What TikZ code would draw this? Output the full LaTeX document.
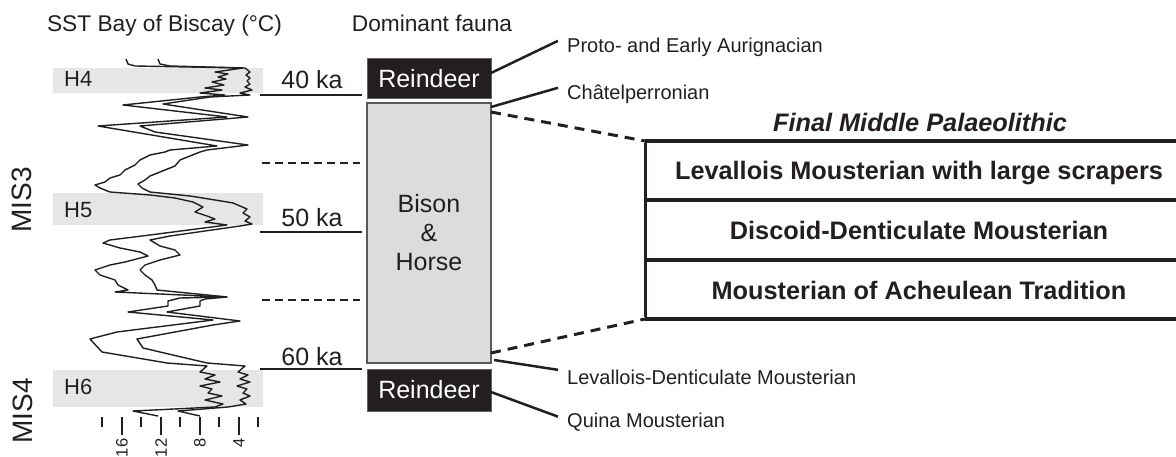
\documentclass[tikz,border=0pt]{standalone}
\usepackage{fontspec}
\setmainfont{Liberation Sans}
\definecolor{ink}{HTML}{231F20}
\definecolor{bandgray}{HTML}{E6E6E6}
\definecolor{bisonfill}{HTML}{DCDCDC}
\begin{document}
\begin{tikzpicture}[x=1pt,y=-1pt,
  head/.style={text=ink, inner sep=0pt, anchor=base, font=\fontsize{22.7}{27}\selectfont},
  kalab/.style={text=ink, inner sep=0pt, anchor=base, font=\fontsize{25}{30}\selectfont},
  hlab/.style={text=ink, inner sep=0pt, anchor=base west, font=\fontsize{22}{26}\selectfont},
  mislab/.style={text=ink, inner sep=0pt, rotate=90, font=\fontsize{28}{32}\selectfont},
  ticklab/.style={text=ink, inner sep=0pt, rotate=90, anchor=east, font=\fontsize{16.5}{20}\selectfont},
  darkbox/.style={fill=ink, draw=ink!70, line width=1pt, text=white, minimum width=124pt, inner sep=0pt, outer sep=0pt, font=\fontsize{25}{30}\selectfont},
  bisonbox/.style={fill=bisonfill, draw=ink!75, line width=1.5pt, minimum width=124pt, minimum height=260pt, inner sep=0pt, outer sep=0pt, align=center, text=ink, font=\fontsize{25}{29}\selectfont},
  note/.style={text=ink, inner sep=0pt, anchor=base west, font=\fontsize{20}{24}\selectfont},
  conn/.style={draw=ink, line width=2.5pt},
  dashconn/.style={draw=ink, line width=3pt, dash pattern=on 10pt off 7pt},
  kaline/.style={draw=ink, line width=2.5pt},
  dotline/.style={draw=ink, line width=2.5pt, dash pattern=on 8pt off 5pt},
  rowtext/.style={text=ink, inner sep=0pt, anchor=base, font=\bfseries\fontsize{25.3}{30}\selectfont},
  tabrule/.style={draw=ink, line width=4pt},
  sst/.style={draw=ink, line width=1.4pt, line join=round},
  tickmark/.style={draw=ink, line width=1.5pt}
]
\useasboundingbox (0,0) rectangle (1176,457);

% headings
\node[head] (hsst) at (164.5,32) {SST Bay of Biscay (°C)};
\node[head] (hfauna) at (432,32) {Dominant fauna};

% Heinrich bands
\fill[bandgray] (53,68) rectangle (263,93);
\fill[bandgray] (53,193) rectangle (263,225);
\fill[bandgray] (53,370) rectangle (263,407);
\node[hlab] (h4) at (64,87) {H4};
\node[hlab] (h5) at (64,218) {H5};
\node[hlab] (h6) at (64,394) {H6};

% SST curves
\draw[sst] plot coordinates {(126,59) (128,64) (135,66) (243,68)
 (215,72) (228,74) (218,77) (226,79) (212,82) (224,85) (205,88) (222,90) (200,93) (225,95) (200,97)
 (123,105) (227,117) (98,126) (217,146) (170,150)
 (165,152) (150,155) (140,160) (135,165) (125,170) (120,175) (110,178) (105,182) (95,185) (100,188) (110,192)
 (150,195) (175,198) (193,202) (203,207) (195,212) (207,216) (215,219) (205,222) (227,225)
 (150,235) (110,240) (103,243) (120,248) (140,252) (148,256) (125,262) (110,265) (95,270) (100,275) (115,280) (118,285) (128,290) (115,292)
 (227,297) (180,298) (168,301) (168,306) (128,312) (213,320) (117,332) (90,339) (102,352) (167,363) (207,366)
 (200,372) (215,375) (205,379) (220,382) (200,386) (212,389) (208,393) (222,396) (205,400) (223,404) (215,407)
 (133,411) (158,416)};
\draw[sst] plot coordinates {(158,59) (160,64) (170,66) (245,68)
 (250,72) (246,75) (250,78) (247,81) (250,84) (245,87) (252,90) (240,93) (250,95) (210,97)
 (163,104) (248,117) (140,126) (155,132) (248,145) (207,150)
 (200,152) (190,156) (180,160) (175,166) (160,172) (150,176) (145,180) (138,184) (142,188) (150,192)
 (190,196) (215,200) (233,203) (247,209) (243,213) (250,217) (245,221) (252,224) (240,226)
 (170,236) (150,240) (160,246) (175,250) (180,255) (160,260) (145,265) (140,270) (145,275) (152,280) (155,285) (157,290)
 (227,297) (205,299) (200,301) (200,306) (167,312) (240,321) (213,325) (137,339) (143,348) (207,363) (245,366)
 (238,372) (248,375) (240,379) (250,382) (237,386) (247,389) (243,393) (250,396) (240,400) (246,404) (228,407)
 (178,411) (200,416)};

% temperature scale
\foreach \x in {102,141,180,219,258} \draw[tickmark] (\x,417) -- (\x,427);
\foreach \x in {122,161,200,239} \draw[tickmark] (\x,417) -- (\x,435);
\node[ticklab] (t16) at (122,438.5) {16};
\node[ticklab] (t12) at (161,438.5) {12};
\node[ticklab] (t8) at (200,438.5) {8};
\node[ticklab] (t4) at (239,438.5) {4};

% MIS labels
\node[mislab] (mis3) at (22,200) {MIS3};
\node[mislab] (mis4) at (23,411) {MIS4};

% ka lines
\draw[kaline] (260,95) -- (362,95);
\draw[kaline] (260,232) -- (362,232);
\draw[kaline] (260,369) -- (362,369);
\draw[dotline] (262,163) -- (360,163);
\draw[dotline] (262,300) -- (360,300);
\node[kalab] (k40) at (312,89) {40 ka};
\node[kalab] (k50) at (312,227) {50 ka};
\node[kalab] (k60) at (312,365) {60 ka};

% fauna boxes
\node[darkbox, minimum height=40pt] (r1) at (429,79) {Reindeer};
\node[bisonbox] (bison) at (429,233) {Bison\\\&\\Horse};
\node[darkbox, minimum height=42pt] (r2) at (429,390) {Reindeer};

% annotations
\node[note] (nproto) at (567,53) {Proto- and Early Aurignacian};
\node[note] (nchat) at (567,100) {Châtelperronian};
\node[note] (nlev) at (567,384) {Levallois-Denticulate Mousterian};
\node[note] (nquina) at (567,427) {Quina Mousterian};
\draw[conn] ([yshift=6pt]r1.east) -- ([xshift=-9pt,yshift=7pt]nproto.west);
\draw[conn] ([yshift=-4pt]bison.north east) -- ([xshift=-9pt,yshift=7pt]nchat.west);
\draw[conn] ([xshift=3pt,yshift=3pt]bison.south east) -- ([xshift=-9pt,yshift=7pt]nlev.west);
\draw[conn] ([yshift=-2pt]r2.east) -- ([xshift=-9pt,yshift=5pt]nquina.west);

% Final Middle Palaeolithic table
\coordinate (tabTL) at (645,141);
\coordinate (tabBL) at (645,319);
\coordinate (tabTR) at (1176,141);
\coordinate (tabBR) at (1176,319);
\draw[tabrule] (tabTL) -- (tabTR);
\draw[tabrule] (645,200) -- (1176,200);
\draw[tabrule] (645,260) -- (1176,260);
\draw[tabrule] (tabBL) -- (tabBR);
\draw[draw=ink, line width=3pt] ([yshift=-2pt]tabTL) -- ([yshift=2pt]tabBL);
\node[rowtext, font=\bfseries\itshape\fontsize{25.3}{30}\selectfont] (fmp) at (920,132) {Final Middle Palaeolithic};
\node[rowtext] (row1) at (919,180) {Levallois Mousterian with large scrapers};
\node[rowtext] (row2) at (919,240) {Discoid-Denticulate Mousterian};
\node[rowtext] (row3) at (919,300) {Mousterian of Acheulean Tradition};
\draw[dashconn] ([yshift=-9pt]bison.north east) -- (tabTL);
\draw[dashconn] ([yshift=10pt]bison.south east) -- (tabBL);
\end{tikzpicture}
\end{document}
